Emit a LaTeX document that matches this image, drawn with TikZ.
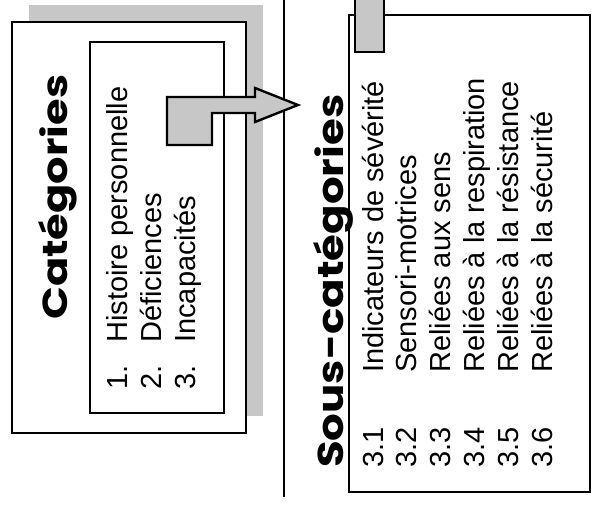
\documentclass[tikz,border=0pt]{standalone}
\usepackage{fontspec}
\setmainfont{Liberation Sans}
\newfontfamily\titlefont{Poppins}
\usepackage{graphicx}
\begin{document}
\begin{tikzpicture}[x=1pt,y=-1pt,
  boxline/.style={draw=black,line width=2.2pt},
  shadegray/.style={fill=black!22},
  rtext/.style={rotate=90,anchor=base west,inner sep=0pt,font=\fontsize{29}{34}\selectfont},
  ttext/.style={rotate=90,anchor=base west,inner sep=0pt}
]
\useasboundingbox (0,0) rectangle (605,508);
% left group
\fill[shadegray] (29,5) rectangle (263,416);
\path[boxline,fill=white] (12,22) rectangle coordinate[pos=0.5] (oc) (246,433);
\node[draw=none] (outer) at (oc) {};
\path[boxline,fill=white] (90,42) rectangle (224,413);
\node[ttext] (cat) at (67,320) {\resizebox{245pt}{29pt}{\titlefont\bfseries Catégories}};
\node[rtext] (n1) at (127,390) {1.};
\node[rtext] (t1) at (127,343) {Histoire personnelle};
\node[rtext] (n2) at (161,390) {2.};
\node[rtext] (t2) at (161,343) {Déficiences};
\node[rtext] (n3) at (195,390) {3.};
\node[rtext] (t3) at (195,343) {Incapacités};
% separator
\coordinate (septop) at (284,0);
\coordinate (sepbot) at (284,497);
\draw[line width=1.6pt] (septop) -- (sepbot);
% arrow
\draw[boxline,shadegray,line width=2.4pt,line join=miter] (167,97) -- (255,97) -- (255,88) -- (298,105) -- (255,122) -- (255,113) -- (212,113) -- (212,145) -- (167,145) -- cycle;
% right group
\path[boxline,fill=white] (349,15) rectangle (590,492);
\fill[shadegray] (355,0) rectangle (384,52);
\draw[boxline] (355,0) -- (355,52) -- (384,52) -- (384,0);
\node[ttext] (sous) at (343,468) {\resizebox{373pt}{30pt}{\titlefont\bfseries Sous-catégories}};
\node[rtext] (m1) at (383,468) {3.1};
\node[rtext] (s1) at (383,373) {Indicateurs de sévérité};
\node[rtext] (m2) at (416.8,468) {3.2};
\node[rtext] (s2) at (416.8,373) {Sensori-motrices};
\node[rtext] (m3) at (450.6,468) {3.3};
\node[rtext] (s3) at (450.6,373) {Reliées aux sens};
\node[rtext] (m4) at (484.4,468) {3.4};
\node[rtext] (s4) at (484.4,373) {Reliées à la respiration};
\node[rtext] (m5) at (518.2,468) {3.5};
\node[rtext] (s5) at (518.2,373) {Reliées à la résistance};
\node[rtext] (m6) at (552,468) {3.6};
\node[rtext] (s6) at (552,373) {Reliées à la sécurité};
\end{tikzpicture}
\end{document}
